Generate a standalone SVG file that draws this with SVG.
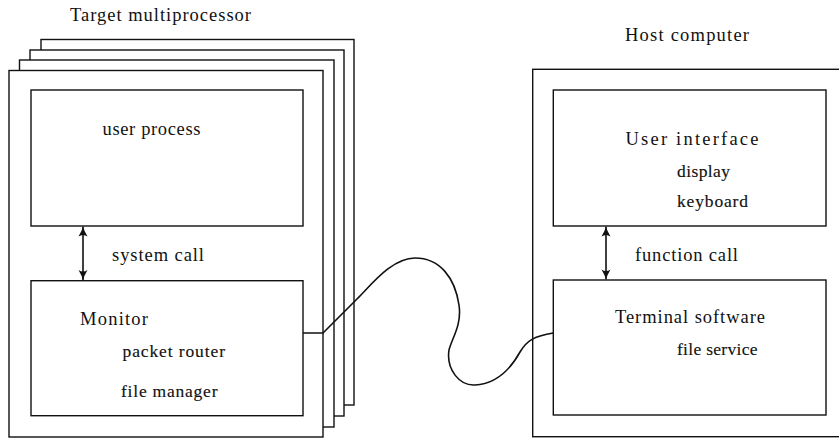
<svg xmlns="http://www.w3.org/2000/svg" width="839" height="438" viewBox="0 0 839 438">
  <style>
    .frame { fill: #fff; stroke: #111; stroke-width: 1.4; }
    .box { fill: none; stroke: #111; stroke-width: 1.4; }
    .lbl { font-family: 'Liberation Serif', 'DejaVu Serif', serif; font-size: 18.5px; fill: #111; }
    .sub { font-family: 'Liberation Serif', 'DejaVu Serif', serif; font-size: 17.5px; fill: #111; stroke: #111; stroke-width: 0.15; }
    .call { fill: none; stroke: #111; stroke-width: 1.6; }
    .wire { fill: none; stroke: #111; stroke-width: 1.6; }
  </style>
  <defs>
    <marker id="head" viewBox="0 0 10 10" refX="10" refY="5" markerWidth="10" markerHeight="10" markerUnits="userSpaceOnUse" orient="auto-start-reverse">
      <path d="M0,0.5 Q6,4 10,5 Q6,6 0,9.5 Q3,5 0,0.5 Z" fill="#111"/>
    </marker>
  </defs>
  <rect width="839" height="438" fill="#fff"/>

  <!-- Target multiprocessor: stacked processor boards -->
  <g id="target">
    <text class="lbl" x="70" y="20.5" textLength="181" lengthAdjust="spacing">Target multiprocessor</text>
    <rect class="frame" x="41" y="39.5" width="313" height="365.5"/>
    <rect class="frame" x="30" y="50" width="314" height="366"/>
    <rect class="frame" x="19.5" y="60" width="314.5" height="367"/>
    <rect class="frame" x="9" y="70.5" width="314" height="366.5"/>
  </g>

  <g id="user-process">
    <rect class="box" x="31" y="90" width="272" height="136"/>
    <text class="lbl" x="102.5" y="135" textLength="98" lengthAdjust="spacing">user process</text>
  </g>

  <g id="monitor">
    <rect class="box" x="31" y="280.7" width="272" height="135"/>
    <text class="lbl" x="80" y="324.5" textLength="68" lengthAdjust="spacing">Monitor</text>
    <text class="sub" x="122.5" y="357" textLength="102.5" lengthAdjust="spacing">packet router</text>
    <text class="sub" x="121" y="396.5" textLength="96.5" lengthAdjust="spacing">file manager</text>
  </g>

  <!-- Host computer -->
  <g id="host">
    <text class="lbl" x="625" y="40.7" textLength="124" lengthAdjust="spacing">Host computer</text>
    <rect class="frame" x="532.7" y="69.3" width="310" height="367.4"/>
  </g>

  <g id="user-interface">
    <rect class="box" x="553.3" y="90" width="272.7" height="136"/>
    <text class="lbl" x="625.5" y="145" textLength="133" lengthAdjust="spacing">User interface</text>
    <text class="sub" x="677" y="176.5" textLength="53" lengthAdjust="spacing">display</text>
    <text class="sub" x="677" y="207" textLength="71" lengthAdjust="spacing">keyboard</text>
  </g>

  <g id="terminal">
    <rect class="box" x="553.3" y="280" width="272.7" height="135"/>
    <text class="lbl" x="615" y="323.3" textLength="150" lengthAdjust="spacing">Terminal software</text>
    <text class="sub" x="677" y="355" textLength="80.5" lengthAdjust="spacing">file service</text>
  </g>

  <!-- Connectors -->
  <g id="connectors">
    <line class="call" x1="83" y1="226.6" x2="83" y2="280" marker-start="url(#head)" marker-end="url(#head)"/>
    <text class="lbl" x="112" y="260.7" textLength="92" lengthAdjust="spacing">system call</text>
    <line class="call" x1="606" y1="226.6" x2="606" y2="279.4" marker-start="url(#head)" marker-end="url(#head)"/>
    <text class="lbl" x="635" y="260.7" textLength="103" lengthAdjust="spacing">function call</text>
    <path class="wire" d="M303,333 H323 L357,299 C372,284 392,258 415,258 C440,258 455,278 459,305 C462,325 452,338 449,350 C446,370 460,386 475,385 C495,384 510,370 520,352 C527,340 535,336 553.3,333"/>
  </g>
</svg>
